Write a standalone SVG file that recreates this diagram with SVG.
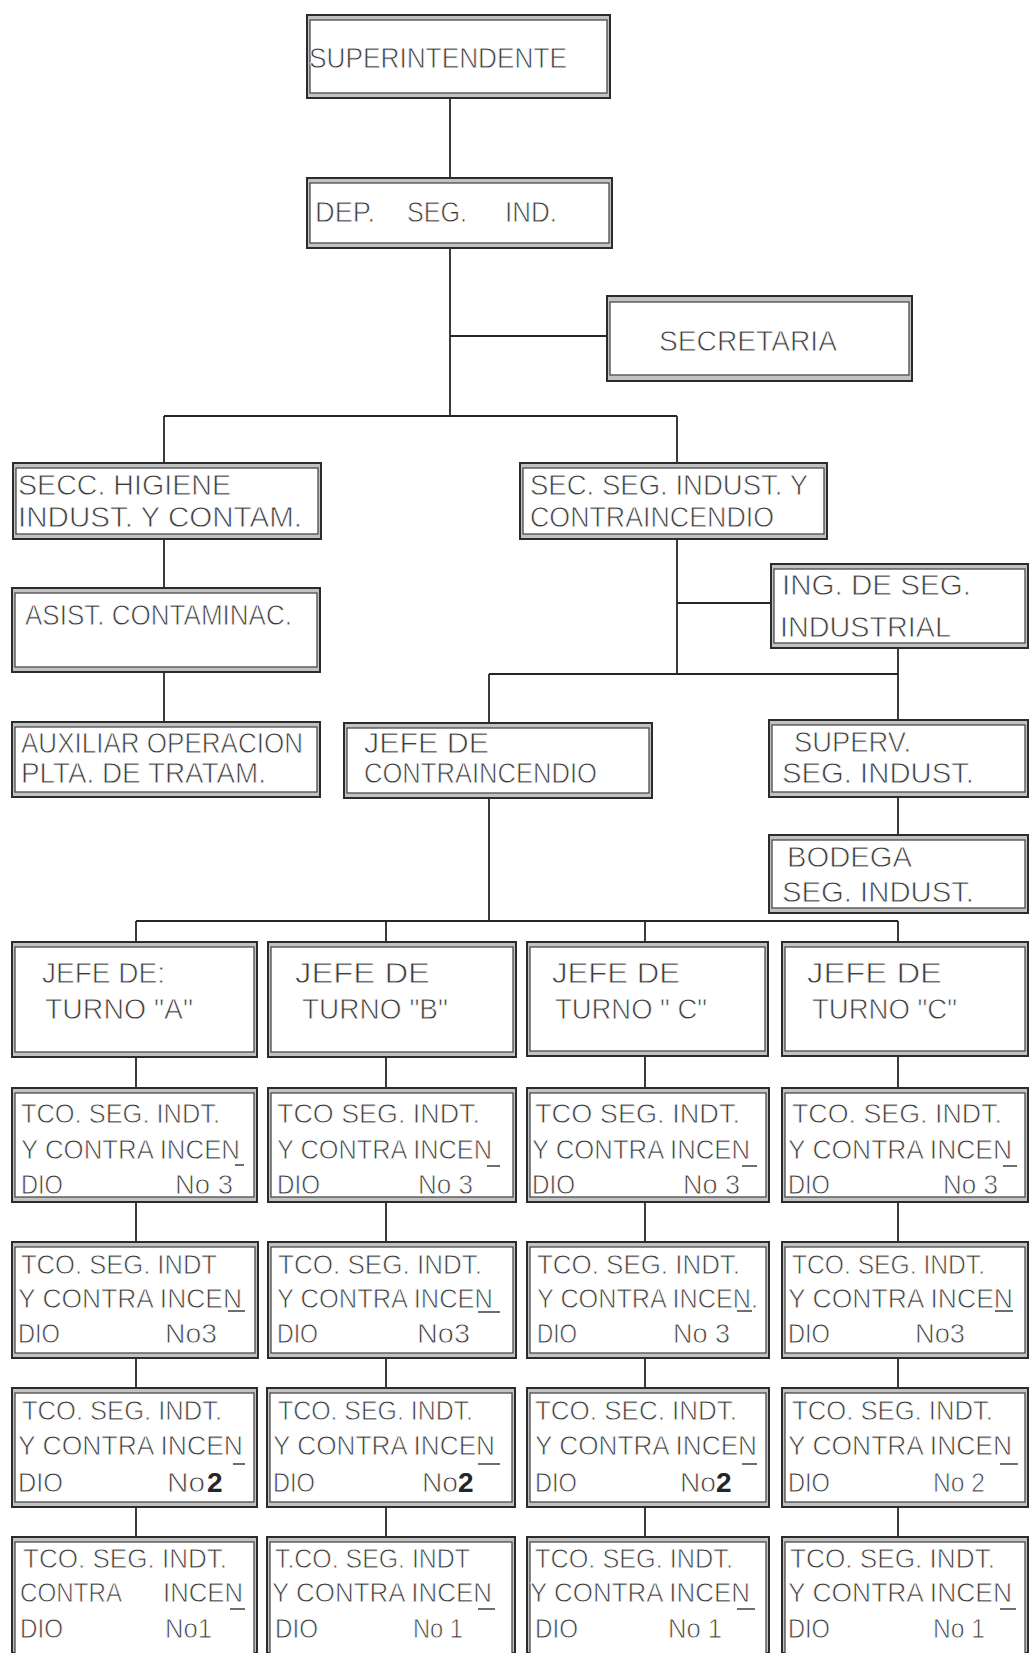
<svg xmlns="http://www.w3.org/2000/svg" width="1029" height="1653" viewBox="0 0 1029 1653">
  <style>
    .band { fill: #c2c2c2; stroke: #2b2b2b; stroke-width: 2; }
    .face { fill: #ffffff; stroke: #4a4a4a; stroke-width: 1.3; }
    .lbl { font-family: "Liberation Sans", Arial, sans-serif; font-size: 30px; fill: #3a3a3a; stroke: #ffffff; stroke-width: 0.8; }
    .sm { font-size: 28px; }
    .bold { font-weight: bold; fill: #262626; stroke: none; }
    .wire { stroke: #262626; stroke-width: 1.8; fill: none; }
    .dash { stroke: #4a4a4a; stroke-width: 1.6; }
  </style>

  <rect width="1029" height="1653" fill="#ffffff"/>

  <!-- connectors -->
  <g id="connectors" class="wire">
    <line x1="450" y1="98" x2="450" y2="178"/>
    <line x1="450" y1="248" x2="450" y2="416"/>
    <line x1="450" y1="336" x2="607" y2="336"/>
    <line x1="164" y1="416" x2="677" y2="416"/>
    <line x1="164" y1="416" x2="164" y2="463"/>
    <line x1="677" y1="416" x2="677" y2="463"/>
    <line x1="164" y1="539" x2="164" y2="588"/>
    <line x1="164" y1="672" x2="164" y2="722"/>
    <line x1="677" y1="539" x2="677" y2="674"/>
    <line x1="677" y1="603" x2="771" y2="603"/>
    <line x1="489" y1="674" x2="898" y2="674"/>
    <line x1="898" y1="648" x2="898" y2="720"/>
    <line x1="489" y1="674" x2="489" y2="723"/>
    <line x1="898" y1="797" x2="898" y2="835"/>
    <line x1="489" y1="798" x2="489" y2="921"/>
    <line x1="136" y1="921" x2="898" y2="921"/>
    <line x1="136" y1="921" x2="136" y2="942"/>
    <line x1="386" y1="921" x2="386" y2="942"/>
    <line x1="645" y1="921" x2="645" y2="942"/>
    <line x1="898" y1="921" x2="898" y2="942"/>
    <!-- shift chains -->
    <line x1="136" y1="1057" x2="136" y2="1088"/>
    <line x1="386" y1="1057" x2="386" y2="1088"/>
    <line x1="645" y1="1056" x2="645" y2="1088"/>
    <line x1="898" y1="1056" x2="898" y2="1088"/>
    <line x1="136" y1="1202" x2="136" y2="1242"/>
    <line x1="386" y1="1202" x2="386" y2="1242"/>
    <line x1="645" y1="1202" x2="645" y2="1242"/>
    <line x1="898" y1="1202" x2="898" y2="1242"/>
    <line x1="136" y1="1358" x2="136" y2="1388"/>
    <line x1="386" y1="1358" x2="386" y2="1388"/>
    <line x1="645" y1="1358" x2="645" y2="1388"/>
    <line x1="898" y1="1358" x2="898" y2="1388"/>
    <line x1="136" y1="1507" x2="136" y2="1537"/>
    <line x1="386" y1="1507" x2="386" y2="1537"/>
    <line x1="645" y1="1507" x2="645" y2="1537"/>
    <line x1="898" y1="1507" x2="898" y2="1537"/>
  </g>

  <!-- upper management -->
  <g id="superintendente">
    <rect class="band" x="307" y="15" width="303" height="83"/>
    <rect class="face" x="310" y="20" width="297" height="73"/>
    <text class="lbl" x="309" y="68" textLength="258" lengthAdjust="spacingAndGlyphs">SUPERINTENDENTE</text>
  </g>

  <g id="dep-seg-ind">
    <rect class="band" x="307" y="178" width="305" height="70"/>
    <rect class="face" x="310" y="183" width="299" height="60"/>
    <text class="lbl" y="222"><tspan x="315" textLength="60" lengthAdjust="spacingAndGlyphs">DEP.</tspan><tspan x="407" textLength="60" lengthAdjust="spacingAndGlyphs">SEG.</tspan><tspan x="505" textLength="52" lengthAdjust="spacingAndGlyphs">IND.</tspan></text>
  </g>

  <g id="secretaria">
    <rect class="band" x="607" y="296" width="305" height="85"/>
    <rect class="face" x="610" y="302" width="299" height="73"/>
    <text class="lbl" x="659" y="351" textLength="178" lengthAdjust="spacingAndGlyphs">SECRETARIA</text>
  </g>

  <!-- hygiene branch -->
  <g id="secc-higiene">
    <rect class="band" x="13" y="463" width="308" height="76"/>
    <rect class="face" x="16" y="468" width="302" height="66"/>
    <text class="lbl" x="18" y="495" textLength="213" lengthAdjust="spacingAndGlyphs">SECC. HIGIENE</text>
    <text class="lbl" x="18" y="527" textLength="284" lengthAdjust="spacingAndGlyphs">INDUST. Y CONTAM.</text>
  </g>

  <g id="asist-contaminac">
    <rect class="band" x="12" y="588" width="308" height="84"/>
    <rect class="face" x="15" y="593" width="302" height="74"/>
    <text class="lbl" x="25" y="625" textLength="267" lengthAdjust="spacingAndGlyphs">ASIST. CONTAMINAC.</text>
  </g>

  <g id="auxiliar-operacion">
    <rect class="band" x="12" y="722" width="308" height="75"/>
    <rect class="face" x="15" y="727" width="302" height="65"/>
    <text class="lbl" x="21" y="753" textLength="282" lengthAdjust="spacingAndGlyphs">AUXILIAR OPERACION</text>
    <text class="lbl" x="21" y="783" textLength="245" lengthAdjust="spacingAndGlyphs">PLTA. DE TRATAM.</text>
  </g>

  <!-- safety / fire branch -->
  <g id="sec-seg-indust">
    <rect class="band" x="520" y="463" width="307" height="76"/>
    <rect class="face" x="523" y="468" width="301" height="66"/>
    <text class="lbl" x="530" y="495" textLength="278" lengthAdjust="spacingAndGlyphs">SEC. SEG. INDUST. Y</text>
    <text class="lbl" x="530" y="527" textLength="244" lengthAdjust="spacingAndGlyphs">CONTRAINCENDIO</text>
  </g>

  <g id="ing-seg-industrial">
    <rect class="band" x="771" y="564" width="257" height="84"/>
    <rect class="face" x="774" y="569" width="251" height="74"/>
    <text class="lbl" x="782" y="595" textLength="189" lengthAdjust="spacingAndGlyphs">ING. DE SEG.</text>
    <text class="lbl" x="780" y="637" textLength="171" lengthAdjust="spacingAndGlyphs">INDUSTRIAL</text>
  </g>

  <g id="jefe-contraincendio">
    <rect class="band" x="344" y="723" width="308" height="75"/>
    <rect class="face" x="347" y="728" width="302" height="65"/>
    <text class="lbl" x="364" y="753" textLength="125" lengthAdjust="spacingAndGlyphs">JEFE DE</text>
    <text class="lbl" x="364" y="783" textLength="233" lengthAdjust="spacingAndGlyphs">CONTRAINCENDIO</text>
  </g>

  <g id="superv-seg-indust">
    <rect class="band" x="769" y="720" width="259" height="77"/>
    <rect class="face" x="772" y="725" width="253" height="67"/>
    <text class="lbl" x="794" y="752" textLength="117" lengthAdjust="spacingAndGlyphs">SUPERV.</text>
    <text class="lbl" x="782" y="783" textLength="192" lengthAdjust="spacingAndGlyphs">SEG. INDUST.</text>
  </g>

  <g id="bodega-seg-indust">
    <rect class="band" x="769" y="835" width="259" height="78"/>
    <rect class="face" x="772" y="840" width="253" height="68"/>
    <text class="lbl" x="787" y="867" textLength="125" lengthAdjust="spacingAndGlyphs">BODEGA</text>
    <text class="lbl" x="782" y="902" textLength="192" lengthAdjust="spacingAndGlyphs">SEG. INDUST.</text>
  </g>

  <!-- shift chiefs -->
  <g id="turno-a">
    <rect class="band" x="12" y="942" width="245" height="115"/>
    <rect class="face" x="15" y="947" width="239" height="105"/>
    <text class="lbl" x="42" y="983" textLength="123" lengthAdjust="spacingAndGlyphs">JEFE DE:</text>
    <text class="lbl" x="45" y="1019" textLength="148" lengthAdjust="spacingAndGlyphs">TURNO "A"</text>
  </g>
  <g id="turno-b">
    <rect class="band" x="268" y="942" width="248" height="115"/>
    <rect class="face" x="271" y="947" width="242" height="105"/>
    <text class="lbl" x="295" y="983" textLength="135" lengthAdjust="spacingAndGlyphs">JEFE DE</text>
    <text class="lbl" x="302" y="1019" textLength="146" lengthAdjust="spacingAndGlyphs">TURNO "B"</text>
  </g>
  <g id="turno-c">
    <rect class="band" x="527" y="942" width="241" height="114"/>
    <rect class="face" x="530" y="947" width="235" height="104"/>
    <text class="lbl" x="552" y="983" textLength="128" lengthAdjust="spacingAndGlyphs">JEFE DE</text>
    <text class="lbl" x="555" y="1019" textLength="152" lengthAdjust="spacingAndGlyphs">TURNO " C"</text>
  </g>
  <g id="turno-c2">
    <rect class="band" x="782" y="942" width="246" height="114"/>
    <rect class="face" x="785" y="947" width="240" height="104"/>
    <text class="lbl" x="807" y="983" textLength="135" lengthAdjust="spacingAndGlyphs">JEFE DE</text>
    <text class="lbl" x="812" y="1019" textLength="145" lengthAdjust="spacingAndGlyphs">TURNO "C"</text>
  </g>

  <!-- technicians, level 3 -->
  <g id="tco-a3">
    <rect class="band" x="12" y="1088" width="245" height="114"/>
    <rect class="face" x="15" y="1093" width="239" height="104"/>
    <text class="lbl sm" x="21" y="1123" textLength="199" lengthAdjust="spacingAndGlyphs">TCO. SEG. INDT.</text>
    <text class="lbl sm" x="21" y="1159" textLength="219" lengthAdjust="spacingAndGlyphs">Y CONTRA INCEN</text>
    <text class="lbl sm" x="21" y="1194" textLength="42" lengthAdjust="spacingAndGlyphs">DIO</text>
    <text class="lbl sm" x="175" y="1194" textLength="58" lengthAdjust="spacingAndGlyphs">No 3</text>
    <line class="dash" x1="235" y1="1165" x2="244" y2="1165"/>
  </g>
  <g id="tco-b3">
    <rect class="band" x="268" y="1088" width="248" height="114"/>
    <rect class="face" x="271" y="1093" width="242" height="104"/>
    <text class="lbl sm" x="277" y="1123" textLength="203" lengthAdjust="spacingAndGlyphs">TCO SEG. INDT.</text>
    <text class="lbl sm" x="277" y="1159" textLength="215" lengthAdjust="spacingAndGlyphs">Y CONTRA INCEN</text>
    <text class="lbl sm" x="277" y="1194" textLength="43" lengthAdjust="spacingAndGlyphs">DIO</text>
    <text class="lbl sm" x="418" y="1194" textLength="55" lengthAdjust="spacingAndGlyphs">No 3</text>
    <line class="dash" x1="487" y1="1166" x2="500" y2="1166"/>
  </g>
  <g id="tco-c3">
    <rect class="band" x="527" y="1088" width="242" height="114"/>
    <rect class="face" x="530" y="1093" width="236" height="104"/>
    <text class="lbl sm" x="535" y="1123" textLength="205" lengthAdjust="spacingAndGlyphs">TCO SEG. INDT.</text>
    <text class="lbl sm" x="532" y="1159" textLength="218" lengthAdjust="spacingAndGlyphs">Y CONTRA INCEN</text>
    <text class="lbl sm" x="532" y="1194" textLength="43" lengthAdjust="spacingAndGlyphs">DIO</text>
    <text class="lbl sm" x="683" y="1194" textLength="57" lengthAdjust="spacingAndGlyphs">No 3</text>
    <line class="dash" x1="742" y1="1166" x2="757" y2="1166"/>
  </g>
  <g id="tco-d3">
    <rect class="band" x="782" y="1088" width="246" height="114"/>
    <rect class="face" x="785" y="1093" width="240" height="104"/>
    <text class="lbl sm" x="792" y="1123" textLength="210" lengthAdjust="spacingAndGlyphs">TCO. SEG. INDT.</text>
    <text class="lbl sm" x="788" y="1159" textLength="224" lengthAdjust="spacingAndGlyphs">Y CONTRA INCEN</text>
    <text class="lbl sm" x="788" y="1194" textLength="42" lengthAdjust="spacingAndGlyphs">DIO</text>
    <text class="lbl sm" x="943" y="1194" textLength="55" lengthAdjust="spacingAndGlyphs">No 3</text>
    <line class="dash" x1="1003" y1="1166" x2="1017" y2="1166"/>
  </g>

  <!-- technicians, second level 3 -->
  <g id="tco-a3b">
    <rect class="band" x="12" y="1242" width="246" height="116"/>
    <rect class="face" x="15" y="1247" width="240" height="106"/>
    <text class="lbl sm" x="21" y="1274" textLength="196" lengthAdjust="spacingAndGlyphs">TCO. SEG. INDT</text>
    <text class="lbl sm" x="18" y="1308" textLength="224" lengthAdjust="spacingAndGlyphs">Y CONTRA INCEN</text>
    <text class="lbl sm" x="18" y="1343" textLength="42" lengthAdjust="spacingAndGlyphs">DIO</text>
    <text class="lbl sm" x="165" y="1343" textLength="52" lengthAdjust="spacingAndGlyphs">No3</text>
    <line class="dash" x1="228" y1="1311" x2="245" y2="1311"/>
  </g>
  <g id="tco-b3b">
    <rect class="band" x="268" y="1242" width="248" height="116"/>
    <rect class="face" x="271" y="1247" width="242" height="106"/>
    <text class="lbl sm" x="278" y="1274" textLength="204" lengthAdjust="spacingAndGlyphs">TCO. SEG. INDT.</text>
    <text class="lbl sm" x="277" y="1308" textLength="216" lengthAdjust="spacingAndGlyphs">Y CONTRA INCEN</text>
    <text class="lbl sm" x="277" y="1343" textLength="41" lengthAdjust="spacingAndGlyphs">DIO</text>
    <text class="lbl sm" x="417" y="1343" textLength="53" lengthAdjust="spacingAndGlyphs">No3</text>
    <line class="dash" x1="478" y1="1312" x2="500" y2="1312"/>
  </g>
  <g id="tco-c3b">
    <rect class="band" x="527" y="1242" width="242" height="116"/>
    <rect class="face" x="530" y="1247" width="236" height="106"/>
    <text class="lbl sm" x="537" y="1274" textLength="203" lengthAdjust="spacingAndGlyphs">TCO. SEG. INDT.</text>
    <text class="lbl sm" x="537" y="1308" textLength="221" lengthAdjust="spacingAndGlyphs">Y CONTRA INCEN.</text>
    <text class="lbl sm" x="537" y="1343" textLength="40" lengthAdjust="spacingAndGlyphs">DIO</text>
    <text class="lbl sm" x="673" y="1343" textLength="57" lengthAdjust="spacingAndGlyphs">No 3</text>
    <line class="dash" x1="737" y1="1311" x2="752" y2="1311"/>
  </g>
  <g id="tco-d3b">
    <rect class="band" x="782" y="1242" width="246" height="116"/>
    <rect class="face" x="785" y="1247" width="240" height="106"/>
    <text class="lbl sm" x="792" y="1274" textLength="193" lengthAdjust="spacingAndGlyphs">TCO. SEG. INDT.</text>
    <text class="lbl sm" x="788" y="1308" textLength="225" lengthAdjust="spacingAndGlyphs">Y CONTRA INCEN</text>
    <text class="lbl sm" x="788" y="1343" textLength="42" lengthAdjust="spacingAndGlyphs">DIO</text>
    <text class="lbl sm" x="915" y="1343" textLength="50" lengthAdjust="spacingAndGlyphs">No3</text>
    <line class="dash" x1="995" y1="1311" x2="1013" y2="1311"/>
  </g>

  <!-- technicians, level 2 -->
  <g id="tco-a2">
    <rect class="band" x="12" y="1388" width="245" height="119"/>
    <rect class="face" x="15" y="1393" width="239" height="109"/>
    <text class="lbl sm" x="22" y="1420" textLength="200" lengthAdjust="spacingAndGlyphs">TCO. SEG. INDT.</text>
    <text class="lbl sm" x="18" y="1455" textLength="225" lengthAdjust="spacingAndGlyphs">Y CONTRA INCEN</text>
    <text class="lbl sm" x="18" y="1492" textLength="45" lengthAdjust="spacingAndGlyphs">DIO</text>
    <text class="lbl sm" x="167" y="1492" textLength="38" lengthAdjust="spacingAndGlyphs">No</text>
    <text class="lbl sm bold" x="207" y="1492">2</text>
    <line class="dash" x1="233" y1="1464" x2="245" y2="1464"/>
  </g>
  <g id="tco-b2">
    <rect class="band" x="267" y="1388" width="248" height="119"/>
    <rect class="face" x="270" y="1393" width="242" height="109"/>
    <text class="lbl sm" x="278" y="1420" textLength="195" lengthAdjust="spacingAndGlyphs">TCO. SEG. INDT.</text>
    <text class="lbl sm" x="273" y="1455" textLength="222" lengthAdjust="spacingAndGlyphs">Y CONTRA INCEN</text>
    <text class="lbl sm" x="273" y="1492" textLength="42" lengthAdjust="spacingAndGlyphs">DIO</text>
    <text class="lbl sm" x="422" y="1492" textLength="36" lengthAdjust="spacingAndGlyphs">No</text>
    <text class="lbl sm bold" x="458" y="1492">2</text>
    <line class="dash" x1="478" y1="1464" x2="500" y2="1464"/>
  </g>
  <g id="tco-c2">
    <rect class="band" x="527" y="1388" width="242" height="119"/>
    <rect class="face" x="530" y="1393" width="236" height="109"/>
    <text class="lbl sm" x="535" y="1420" textLength="202" lengthAdjust="spacingAndGlyphs">TCO. SEC. INDT.</text>
    <text class="lbl sm" x="535" y="1455" textLength="222" lengthAdjust="spacingAndGlyphs">Y CONTRA INCEN</text>
    <text class="lbl sm" x="535" y="1492" textLength="42" lengthAdjust="spacingAndGlyphs">DIO</text>
    <text class="lbl sm" x="680" y="1492" textLength="36" lengthAdjust="spacingAndGlyphs">No</text>
    <text class="lbl sm bold" x="716" y="1492">2</text>
    <line class="dash" x1="742" y1="1464" x2="757" y2="1464"/>
  </g>
  <g id="tco-d2">
    <rect class="band" x="782" y="1388" width="246" height="119"/>
    <rect class="face" x="785" y="1393" width="240" height="109"/>
    <text class="lbl sm" x="792" y="1420" textLength="201" lengthAdjust="spacingAndGlyphs">TCO. SEG. INDT.</text>
    <text class="lbl sm" x="788" y="1455" textLength="224" lengthAdjust="spacingAndGlyphs">Y CONTRA INCEN</text>
    <text class="lbl sm" x="788" y="1492" textLength="42" lengthAdjust="spacingAndGlyphs">DIO</text>
    <text class="lbl sm" x="933" y="1492" textLength="52" lengthAdjust="spacingAndGlyphs">No 2</text>
    <line class="dash" x1="1000" y1="1464" x2="1018" y2="1464"/>
  </g>

  <!-- technicians, level 1 -->
  <g id="tco-a1">
    <rect class="band" x="12" y="1537" width="245" height="116"/>
    <rect class="face" x="15" y="1542" width="239" height="112"/>
    <text class="lbl sm" x="23" y="1568" textLength="204" lengthAdjust="spacingAndGlyphs">TCO. SEG. INDT.</text>
    <text class="lbl sm" x="20" y="1602" textLength="102" lengthAdjust="spacingAndGlyphs">CONTRA</text>
    <text class="lbl sm" x="163" y="1602" textLength="80" lengthAdjust="spacingAndGlyphs">INCEN</text>
    <text class="lbl sm" x="20" y="1638" textLength="43" lengthAdjust="spacingAndGlyphs">DIO</text>
    <text class="lbl sm" x="165" y="1638" textLength="47" lengthAdjust="spacingAndGlyphs">No1</text>
    <line class="dash" x1="230" y1="1609" x2="245" y2="1609"/>
  </g>
  <g id="tco-b1">
    <rect class="band" x="267" y="1537" width="248" height="116"/>
    <rect class="face" x="270" y="1542" width="242" height="112"/>
    <text class="lbl sm" x="275" y="1568" textLength="195" lengthAdjust="spacingAndGlyphs">T.CO. SEG. INDT</text>
    <text class="lbl sm" x="272" y="1602" textLength="220" lengthAdjust="spacingAndGlyphs">Y CONTRA INCEN</text>
    <text class="lbl sm" x="275" y="1638" textLength="43" lengthAdjust="spacingAndGlyphs">DIO</text>
    <text class="lbl sm" x="413" y="1638" textLength="50" lengthAdjust="spacingAndGlyphs">No 1</text>
    <line class="dash" x1="478" y1="1609" x2="495" y2="1609"/>
  </g>
  <g id="tco-c1">
    <rect class="band" x="527" y="1537" width="242" height="116"/>
    <rect class="face" x="530" y="1542" width="236" height="112"/>
    <text class="lbl sm" x="535" y="1568" textLength="198" lengthAdjust="spacingAndGlyphs">TCO. SEG. INDT.</text>
    <text class="lbl sm" x="530" y="1602" textLength="220" lengthAdjust="spacingAndGlyphs">Y CONTRA INCEN</text>
    <text class="lbl sm" x="535" y="1638" textLength="43" lengthAdjust="spacingAndGlyphs">DIO</text>
    <text class="lbl sm" x="668" y="1638" textLength="54" lengthAdjust="spacingAndGlyphs">No 1</text>
    <line class="dash" x1="737" y1="1609" x2="755" y2="1609"/>
  </g>
  <g id="tco-d1">
    <rect class="band" x="782" y="1537" width="246" height="116"/>
    <rect class="face" x="785" y="1542" width="240" height="112"/>
    <text class="lbl sm" x="790" y="1568" textLength="205" lengthAdjust="spacingAndGlyphs">TCO. SEG. INDT.</text>
    <text class="lbl sm" x="788" y="1602" textLength="224" lengthAdjust="spacingAndGlyphs">Y CONTRA INCEN</text>
    <text class="lbl sm" x="788" y="1638" textLength="42" lengthAdjust="spacingAndGlyphs">DIO</text>
    <text class="lbl sm" x="933" y="1638" textLength="52" lengthAdjust="spacingAndGlyphs">No 1</text>
    <line class="dash" x1="1000" y1="1609" x2="1016" y2="1609"/>
  </g>
</svg>
